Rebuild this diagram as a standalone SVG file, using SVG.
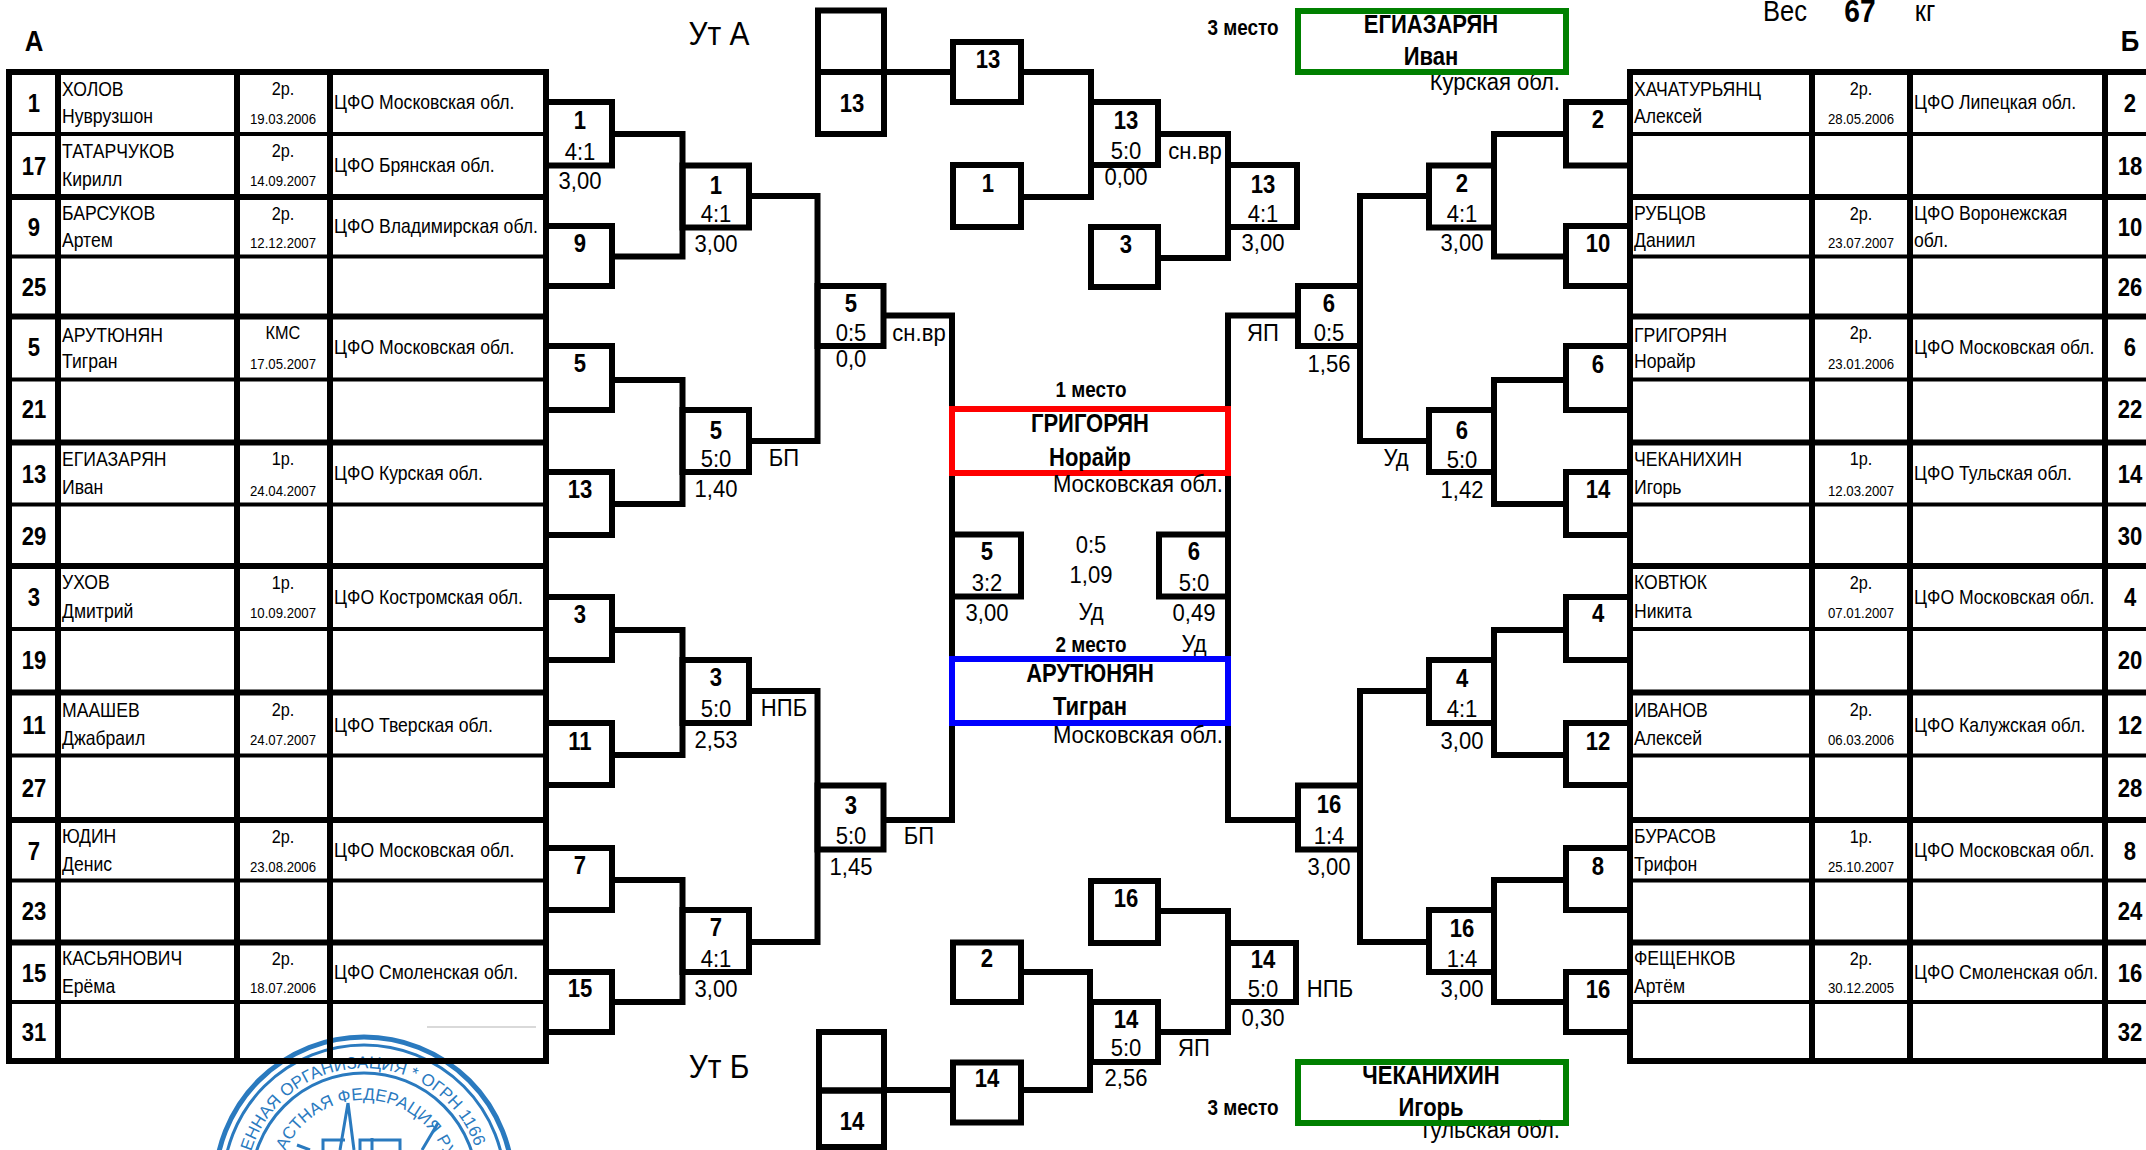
<svg xmlns="http://www.w3.org/2000/svg" width="2146" height="1150" viewBox="0 0 2146 1150">
<style>
text{font-family:"Liberation Sans",Arial,sans-serif;fill:#000;transform-box:fill-box;transform:scaleX(.88)}
.c,.num,.rk,.dt,.sc,.wn,.pl,.bn{text-anchor:middle;transform-origin:center}
.l,.nm,.rg{text-anchor:start;transform-origin:left}
.e{text-anchor:end;transform-origin:right;font-size:23px;transform:scaleX(.96)}
.num{font-size:26px;font-weight:700;transform:scaleX(.85)}
.bn{font-size:26px;font-weight:700;transform:scaleX(.85)}
.nm{font-size:20px}
.rg{font-size:20px}
.rk{font-size:18.5px}
.dt{font-size:15px}
.sc{font-size:24px;transform:scaleX(.92)}
.wn{font-size:25px;font-weight:700}
.pl{font-size:22px;font-weight:700;transform:scaleX(.86)}
.b{fill:none;stroke:#000;stroke-width:6}
.tk{fill:none;stroke:#000;stroke-width:6}
.tn{fill:none;stroke:#000;stroke-width:4}
.w{fill:none;stroke-width:6}
.s{fill:none;stroke:#2a7abf;stroke-width:3}
.so{fill:none;stroke:#2a7abf;stroke-width:5}
.st{font-size:17px;fill:#2a7abf;text-anchor:start;transform:none}
</style>
<defs>
<path id="arc1" d="M251.2 1151.5A118 118 0 0 1 482 1186"/>
<path id="arc2" d="M285.4 1151A86 86 0 0 1 450 1186"/>
</defs>

<g id="seal">
<circle class="so" cx="364" cy="1186" r="149"/>
<circle class="s" cx="364" cy="1186" r="141"/>
<circle class="s" cx="364" cy="1186" r="113"/>
<text class="st"><textPath href="#arc1">ЕННАЯ ОРГАНИЗАЦИЯ * ОГРН 1166</textPath></text>
<text class="st"><textPath href="#arc2">АСТНАЯ ФЕДЕРАЦИЯ РУ</textPath></text>
<path class="s" d="M348 1103L340 1150M348 1103L354 1150M438 1123L422 1150M323 1150V1140H345M360 1150V1140H400V1150M297 1145L310 1150M372 1138V1150"/>
</g>

<g id="table-a">
<path class="tk" d="M6 72H549M6 197H549M6 316.5H549M6 442.5H549M6 566H549M6 692.5H549M6 820H549M6 942.5H549M6 1061H549"/>
<path class="tn" d="M9 134H546M9 256.5H546M9 379.5H546M9 504.5H546M9 629H546M9 755.5H546M9 880.5H546M9 1002H546"/>
<path class="tk" d="M9 69V1064M58 69V1064M237 69V1064M330 69V1064M546 69V1064"/>
<path d="M427 1027H536" fill="none" stroke="#ccc" stroke-width="1.5"/>
</g>
<g id="table-b">
<path class="tk" d="M1627 72H2146M1627 197H2146M1627 316.5H2146M1627 442.5H2146M1627 566H2146M1627 692.5H2146M1627 820H2146M1627 942.5H2146M1627 1061H2146"/>
<path class="tn" d="M1630 134H2146M1630 256.5H2146M1630 379.5H2146M1630 504.5H2146M1630 629H2146M1630 755.5H2146M1630 880.5H2146M1630 1002H2146"/>
<path class="tk" d="M1630 69V1064M1812 69V1064M1910 69V1064M2105 69V1064"/>
</g>

<g id="connectors">
<path class="b" d="M612 134H682.5V256.5H612M612 380H682.5V504H612M612 630H682.5V755H612M612 880H682.5V1002H612"/>
<path class="b" d="M749 196H817.5V441H749M749 691H817.5V942H749"/>
<path class="b" d="M883.5 315.5H952V820H883.5"/>
<path class="b" d="M1566 134H1494V256.5H1566M1566 380H1494V504H1566M1566 630H1494V755H1566M1566 880H1494V1002H1566"/>
<path class="b" d="M1429 196H1360V441H1429M1429 691H1360V942H1429"/>
<path class="b" d="M1298 315.5H1228V820H1298"/>
<path class="b" d="M884 72H953M1021 72H1091V197H1021M1158 134H1228V258H1158"/>
<path class="b" d="M884 1090H953M1021 1090H1090V972H1021M1158 911H1228V1032H1158"/>
</g>

<g id="heads">
<text class="pl" x="34" y="51" style="font-size:30px">А</text>
<text class="pl" x="2130" y="51" style="font-size:30px">Б</text>
<text class="c" x="719" y="45" style="font-size:34px">Ут А</text>
<text class="c" x="719" y="1078" style="font-size:34px">Ут Б</text>
<text class="c" x="1785" y="21" style="font-size:29px">Вес</text>
<text class="c" x="1860" y="22" style="font-size:32px;font-weight:700">67</text>
<text class="c" x="1925" y="21" style="font-size:29px">кг</text>
</g>

<g id="a1"><text class="num" x="34" y="112">1</text><text class="nm" x="62" y="96">ХОЛОВ</text><text class="nm" x="62" y="123">Нуврузшон</text><text class="rk" x="283" y="95">2р.</text><text class="dt" x="283" y="124">19.03.2006</text><text class="rg" x="334" y="109">ЦФО Московская обл.</text></g>
<g id="a17"><text class="num" x="34" y="175">17</text><text class="nm" x="62" y="158">ТАТАРЧУКОВ</text><text class="nm" x="62" y="186">Кирилл</text><text class="rk" x="283" y="157">2р.</text><text class="dt" x="283" y="186">14.09.2007</text><text class="rg" x="334" y="172">ЦФО Брянская обл.</text></g>
<g id="a9"><text class="num" x="34" y="236">9</text><text class="nm" x="62" y="220">БАРСУКОВ</text><text class="nm" x="62" y="247">Артем</text><text class="rk" x="283" y="220">2р.</text><text class="dt" x="283" y="248">12.12.2007</text><text class="rg" x="334" y="233">ЦФО Владимирская обл.</text></g>
<g id="a25"><text class="num" x="34" y="296">25</text></g>
<g id="a5"><text class="num" x="34" y="356">5</text><text class="nm" x="62" y="342">АРУТЮНЯН</text><text class="nm" x="62" y="368">Тигран</text><text class="rk" x="283" y="339">КМС</text><text class="dt" x="283" y="369">17.05.2007</text><text class="rg" x="334" y="354">ЦФО Московская обл.</text></g>
<g id="a21"><text class="num" x="34" y="418">21</text></g>
<g id="a13"><text class="num" x="34" y="483">13</text><text class="nm" x="62" y="466">ЕГИАЗАРЯН</text><text class="nm" x="62" y="494">Иван</text><text class="rk" x="283" y="465">1р.</text><text class="dt" x="283" y="496">24.04.2007</text><text class="rg" x="334" y="480">ЦФО Курская обл.</text></g>
<g id="a29"><text class="num" x="34" y="545">29</text></g>
<g id="a3"><text class="num" x="34" y="606">3</text><text class="nm" x="62" y="589">УХОВ</text><text class="nm" x="62" y="618">Дмитрий</text><text class="rk" x="283" y="589">1р.</text><text class="dt" x="283" y="618">10.09.2007</text><text class="rg" x="334" y="604">ЦФО Костромская обл.</text></g>
<g id="a19"><text class="num" x="34" y="669">19</text></g>
<g id="a11"><text class="num" x="34" y="734">11</text><text class="nm" x="62" y="717">МААШЕВ</text><text class="nm" x="62" y="745">Джабраил</text><text class="rk" x="283" y="716">2р.</text><text class="dt" x="283" y="745">24.07.2007</text><text class="rg" x="334" y="732">ЦФО Тверская обл.</text></g>
<g id="a27"><text class="num" x="34" y="797">27</text></g>
<g id="a7"><text class="num" x="34" y="860">7</text><text class="nm" x="62" y="843">ЮДИН</text><text class="nm" x="62" y="871">Денис</text><text class="rk" x="283" y="843">2р.</text><text class="dt" x="283" y="872">23.08.2006</text><text class="rg" x="334" y="857">ЦФО Московская обл.</text></g>
<g id="a23"><text class="num" x="34" y="920">23</text></g>
<g id="a15"><text class="num" x="34" y="982">15</text><text class="nm" x="62" y="965">КАСЬЯНОВИЧ</text><text class="nm" x="62" y="993">Ерёма</text><text class="rk" x="283" y="965">2р.</text><text class="dt" x="283" y="993">18.07.2006</text><text class="rg" x="334" y="979">ЦФО Смоленская обл.</text></g>
<g id="a31"><text class="num" x="34" y="1041">31</text></g>

<g id="b2"><text class="num" x="2130" y="112">2</text><text class="nm" x="1634" y="96">ХАЧАТУРЬЯНЦ</text><text class="nm" x="1634" y="123">Алексей</text><text class="rk" x="1861" y="95">2р.</text><text class="dt" x="1861" y="124">28.05.2006</text><text class="rg" x="1914" y="109">ЦФО Липецкая обл.</text></g>
<g id="b18"><text class="num" x="2130" y="175">18</text></g>
<g id="b10"><text class="num" x="2130" y="236">10</text><text class="nm" x="1634" y="220">РУБЦОВ</text><text class="nm" x="1634" y="247">Даниил</text><text class="rk" x="1861" y="220">2р.</text><text class="dt" x="1861" y="248">23.07.2007</text><text class="rg" x="1914" y="220">ЦФО Воронежская</text><text class="rg" x="1914" y="247">обл.</text></g>
<g id="b26"><text class="num" x="2130" y="296">26</text></g>
<g id="b6"><text class="num" x="2130" y="356">6</text><text class="nm" x="1634" y="342">ГРИГОРЯН</text><text class="nm" x="1634" y="368">Норайр</text><text class="rk" x="1861" y="339">2р.</text><text class="dt" x="1861" y="369">23.01.2006</text><text class="rg" x="1914" y="354">ЦФО Московская обл.</text></g>
<g id="b22"><text class="num" x="2130" y="418">22</text></g>
<g id="b14"><text class="num" x="2130" y="483">14</text><text class="nm" x="1634" y="466">ЧЕКАНИХИН</text><text class="nm" x="1634" y="494">Игорь</text><text class="rk" x="1861" y="465">1р.</text><text class="dt" x="1861" y="496">12.03.2007</text><text class="rg" x="1914" y="480">ЦФО Тульская обл.</text></g>
<g id="b30"><text class="num" x="2130" y="545">30</text></g>
<g id="b4"><text class="num" x="2130" y="606">4</text><text class="nm" x="1634" y="589">КОВТЮК</text><text class="nm" x="1634" y="618">Никита</text><text class="rk" x="1861" y="589">2р.</text><text class="dt" x="1861" y="618">07.01.2007</text><text class="rg" x="1914" y="604">ЦФО Московская обл.</text></g>
<g id="b20"><text class="num" x="2130" y="669">20</text></g>
<g id="b12"><text class="num" x="2130" y="734">12</text><text class="nm" x="1634" y="717">ИВАНОВ</text><text class="nm" x="1634" y="745">Алексей</text><text class="rk" x="1861" y="716">2р.</text><text class="dt" x="1861" y="745">06.03.2006</text><text class="rg" x="1914" y="732">ЦФО Калужская обл.</text></g>
<g id="b28"><text class="num" x="2130" y="797">28</text></g>
<g id="b8"><text class="num" x="2130" y="860">8</text><text class="nm" x="1634" y="843">БУРАСОВ</text><text class="nm" x="1634" y="871">Трифон</text><text class="rk" x="1861" y="843">1р.</text><text class="dt" x="1861" y="872">25.10.2007</text><text class="rg" x="1914" y="857">ЦФО Московская обл.</text></g>
<g id="b24"><text class="num" x="2130" y="920">24</text></g>
<g id="b16"><text class="num" x="2130" y="982">16</text><text class="nm" x="1634" y="965">ФЕЩЕНКОВ</text><text class="nm" x="1634" y="993">Артём</text><text class="rk" x="1861" y="965">2р.</text><text class="dt" x="1861" y="993">30.12.2005</text><text class="rg" x="1914" y="979">ЦФО Смоленская обл.</text></g>
<g id="b32"><text class="num" x="2130" y="1041">32</text></g>

<g id="r1a1"><rect class="b" x="546" y="102" width="66" height="63.5"/><text class="bn" x="580" y="129">1</text><text class="sc" x="580" y="160">4:1</text><text class="sc" x="580" y="189">3,00</text></g>
<g id="r1a9"><rect class="b" x="546" y="226" width="66" height="60"/><text class="bn" x="580" y="252">9</text></g>
<g id="r1a5"><rect class="b" x="546" y="346" width="66" height="64"/><text class="bn" x="580" y="372">5</text></g>
<g id="r1a13"><rect class="b" x="546" y="472" width="66" height="63"/><text class="bn" x="580" y="498">13</text></g>
<g id="r1a3"><rect class="b" x="546" y="597" width="66" height="63"/><text class="bn" x="580" y="623">3</text></g>
<g id="r1a11"><rect class="b" x="546" y="723" width="66" height="62"/><text class="bn" x="580" y="750">11</text></g>
<g id="r1a7"><rect class="b" x="546" y="848" width="66" height="62"/><text class="bn" x="580" y="874">7</text></g>
<g id="r1a15"><rect class="b" x="546" y="972" width="66" height="60"/><text class="bn" x="580" y="997">15</text></g>

<g id="r2a1"><rect class="b" x="682.5" y="165.5" width="66.5" height="62"/><text class="bn" x="716" y="194">1</text><text class="sc" x="716" y="222">4:1</text><text class="sc" x="716" y="252">3,00</text></g>
<g id="r2a5"><rect class="b" x="682.5" y="410" width="66.5" height="62"/><text class="bn" x="716" y="439">5</text><text class="sc" x="716" y="467">5:0</text><text class="sc" x="716" y="497">1,40</text><text class="sc" x="784" y="466">БП</text></g>
<g id="r2a3"><rect class="b" x="682.5" y="660" width="66.5" height="63"/><text class="bn" x="716" y="686">3</text><text class="sc" x="716" y="717">5:0</text><text class="sc" x="716" y="748">2,53</text><text class="sc" x="784" y="716">НПБ</text></g>
<g id="r2a7"><rect class="b" x="682.5" y="910" width="66.5" height="62"/><text class="bn" x="716" y="936">7</text><text class="sc" x="716" y="967">4:1</text><text class="sc" x="716" y="997">3,00</text></g>

<g id="r3a5"><rect class="b" x="817.5" y="286" width="66" height="60"/><text class="bn" x="851" y="312">5</text><text class="sc" x="851" y="341">0:5</text><text class="sc" x="851" y="367">0,0</text><text class="sc" x="919" y="341">сн.вр</text></g>
<g id="r3a3"><rect class="b" x="817.5" y="785.5" width="66" height="64"/><text class="bn" x="851" y="814">3</text><text class="sc" x="851" y="844">5:0</text><text class="sc" x="851" y="875">1,45</text><text class="sc" x="919" y="844">БП</text></g>

<g id="r1b2"><rect class="b" x="1566" y="102" width="64" height="63.5"/><text class="bn" x="1598" y="128">2</text></g>
<g id="r1b10"><rect class="b" x="1566" y="226" width="64" height="60"/><text class="bn" x="1598" y="252">10</text></g>
<g id="r1b6"><rect class="b" x="1566" y="346" width="64" height="64"/><text class="bn" x="1598" y="373">6</text></g>
<g id="r1b14"><rect class="b" x="1566" y="472" width="64" height="63"/><text class="bn" x="1598" y="498">14</text></g>
<g id="r1b4"><rect class="b" x="1566" y="597" width="64" height="63"/><text class="bn" x="1598" y="622">4</text></g>
<g id="r1b12"><rect class="b" x="1566" y="723" width="64" height="62"/><text class="bn" x="1598" y="750">12</text></g>
<g id="r1b8"><rect class="b" x="1566" y="848" width="64" height="62"/><text class="bn" x="1598" y="875">8</text></g>
<g id="r1b16"><rect class="b" x="1566" y="972" width="64" height="60"/><text class="bn" x="1598" y="998">16</text></g>

<g id="r2b2"><rect class="b" x="1429" y="165.5" width="65" height="62"/><text class="bn" x="1462" y="192">2</text><text class="sc" x="1462" y="222">4:1</text><text class="sc" x="1462" y="251">3,00</text></g>
<g id="r2b6"><rect class="b" x="1429" y="410" width="65" height="62"/><text class="bn" x="1462" y="439">6</text><text class="sc" x="1462" y="468">5:0</text><text class="sc" x="1462" y="498">1,42</text><text class="sc" x="1396" y="466">Уд</text></g>
<g id="r2b4"><rect class="b" x="1429" y="660" width="65" height="63"/><text class="bn" x="1462" y="687">4</text><text class="sc" x="1462" y="717">4:1</text><text class="sc" x="1462" y="749">3,00</text></g>
<g id="r2b16"><rect class="b" x="1429" y="910" width="65" height="62"/><text class="bn" x="1462" y="937">16</text><text class="sc" x="1462" y="967">1:4</text><text class="sc" x="1462" y="997">3,00</text></g>

<g id="r3b6"><rect class="b" x="1298" y="286" width="62" height="60"/><text class="bn" x="1329" y="312">6</text><text class="sc" x="1329" y="341">0:5</text><text class="sc" x="1329" y="372">1,56</text><text class="sc" x="1263" y="341">ЯП</text></g>
<g id="r3b16"><rect class="b" x="1298" y="785.5" width="62" height="64"/><text class="bn" x="1329" y="813">16</text><text class="sc" x="1329" y="844">1:4</text><text class="sc" x="1329" y="875">3,00</text></g>

<g id="ua1"><rect class="b" x="818" y="10.5" width="66" height="61.5"/></g>
<g id="ua2"><rect class="b" x="818" y="72" width="66" height="62"/><text class="bn" x="852" y="112">13</text></g>
<g id="ua3"><rect class="b" x="953" y="42" width="68" height="60"/><text class="bn" x="988" y="68">13</text></g>
<g id="ua4"><rect class="b" x="953" y="165" width="68" height="62"/><text class="bn" x="988" y="192">1</text></g>
<g id="ua5"><rect class="b" x="1091" y="102" width="67" height="63"/><text class="bn" x="1126" y="129">13</text><text class="sc" x="1126" y="159">5:0</text><text class="sc" x="1126" y="185">0,00</text><text class="sc" x="1195" y="159">сн.вр</text></g>
<g id="ua6"><rect class="b" x="1091" y="227" width="67" height="60"/><text class="bn" x="1126" y="253">3</text></g>
<g id="ua7"><rect class="b" x="1228" y="165" width="69" height="62"/><text class="bn" x="1263" y="193">13</text><text class="sc" x="1263" y="222">4:1</text><text class="sc" x="1263" y="251">3,00</text></g>

<g id="ub1"><rect class="b" x="819" y="1032" width="65" height="58.5"/></g>
<g id="ub2"><rect class="b" x="819" y="1090.5" width="65" height="56.5"/><text class="bn" x="852" y="1130">14</text></g>
<g id="ub3"><rect class="b" x="953" y="1062.5" width="68" height="60"/><text class="bn" x="987" y="1087">14</text></g>
<g id="ub4"><rect class="b" x="953" y="942.5" width="68" height="59.5"/><text class="bn" x="987" y="967">2</text></g>
<g id="ub5"><rect class="b" x="1091" y="1002" width="67" height="60"/><text class="bn" x="1126" y="1028">14</text><text class="sc" x="1126" y="1056">5:0</text><text class="sc" x="1126" y="1086">2,56</text><text class="sc" x="1194" y="1056">ЯП</text></g>
<g id="ub6"><rect class="b" x="1091" y="881" width="67" height="62"/><text class="bn" x="1126" y="907">16</text></g>
<g id="ub7"><rect class="b" x="1228" y="943" width="68" height="59"/><text class="bn" x="1263" y="968">14</text><text class="sc" x="1263" y="997">5:0</text><text class="sc" x="1263" y="1026">0,30</text><text class="sc" x="1330" y="997">НПБ</text></g>

<g id="final-a"><rect class="b" x="952" y="534.5" width="69" height="62"/><text class="bn" x="987" y="560">5</text><text class="sc" x="987" y="591">3:2</text><text class="sc" x="987" y="621">3,00</text></g>
<g id="final-b"><rect class="b" x="1159" y="534.5" width="69" height="62"/><text class="bn" x="1194" y="560">6</text><text class="sc" x="1194" y="591">5:0</text><text class="sc" x="1194" y="621">0,49</text><text class="sc" x="1194" y="652">Уд</text></g>
<g id="final-score"><text class="sc" x="1091" y="553">0:5</text><text class="sc" x="1091" y="583">1,09</text><text class="sc" x="1091" y="620">Уд</text></g>

<g id="place1"><text class="pl" x="1091" y="397">1 место</text><rect class="w" x="952" y="409" width="276" height="64" stroke="#f00"/><text class="wn" x="1090" y="432">ГРИГОРЯН</text><text class="wn" x="1090" y="466">Норайр</text><text class="e" x="1223" y="492">Московская обл.</text></g>
<g id="place2"><text class="pl" x="1091" y="652">2 место</text><rect class="w" x="952" y="659" width="276" height="64" stroke="#00f"/><text class="wn" x="1090" y="682">АРУТЮНЯН</text><text class="wn" x="1090" y="715">Тигран</text><text class="e" x="1223" y="743">Московская обл.</text></g>
<g id="place3a"><text class="pl" x="1243" y="35">3 место</text><text class="wn" x="1431" y="33">ЕГИАЗАРЯН</text><text class="wn" x="1431" y="65">Иван</text><text class="e" x="1560" y="90">Курская обл.</text><rect class="w" x="1298" y="11" width="268" height="61" stroke="#008000"/></g>
<g id="place3b"><text class="pl" x="1243" y="1115">3 место</text><text class="wn" x="1431" y="1084">ЧЕКАНИХИН</text><text class="wn" x="1431" y="1116">Игорь</text><text class="e" x="1560" y="1138">Тульская обл.</text><rect class="w" x="1298" y="1062" width="268" height="61" stroke="#008000"/></g>
</svg>
